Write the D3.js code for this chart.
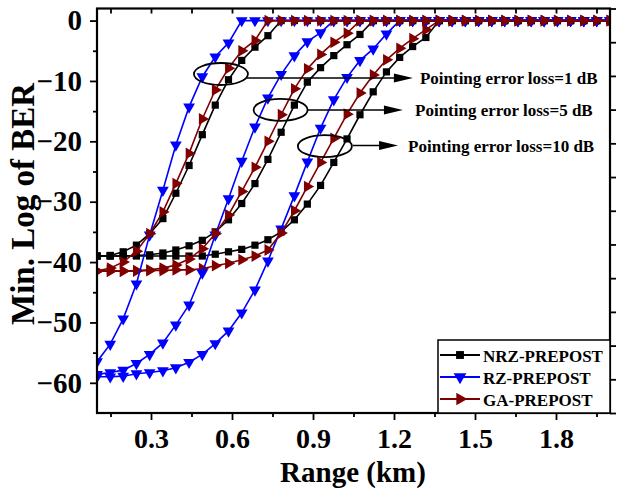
<!DOCTYPE html>
<html>
<head>
<meta charset="utf-8">
<script src="https://cdn.jsdelivr.net/npm/d3@7"></script>
<style>
  body { margin: 0; background: #fff; }
  text { font-family: "Liberation Serif", "Times New Roman", serif; font-weight: bold; fill: #000; }
</style>
</head>
<body>
<svg id="chart" width="617" height="490"></svg>
<script>
// range sweep (km), 40 points
const rangeKm = [0.1, 0.149, 0.197, 0.246, 0.295, 0.344, 0.392, 0.441, 0.49, 0.538,
  0.587, 0.636, 0.685, 0.733, 0.782, 0.831, 0.879, 0.928, 0.977, 1.026,
  1.074, 1.123, 1.172, 1.221, 1.269, 1.318, 1.367, 1.415, 1.464, 1.513,
  1.562, 1.61, 1.659, 1.708, 1.756, 1.805, 1.854, 1.903, 1.951, 2.0];

// min log of BER, pointing error loss = 1 dB
const nrz1 = [-39.0, -38.9, -38.3, -37.2, -35.3, -32.8, -28.6, -24.0, -18.9, -14.0,
  -9.8, -6.6, -4.4, -2.5, 0, 0, 0, 0, 0, 0, 0, 0, 0, 0, 0, 0, 0, 0, 0, 0, 0, 0, 0, 0, 0, 0, 0, 0, 0, 0];
const rz1 = [-56.5, -53.6, -49.4, -43.6, -35.5, -28.1, -20.6, -14.3, -9.3, -6.0,
  -3.7, 0, 0, 0, 0, 0, 0, 0, 0, 0, 0, 0, 0, 0, 0, 0, 0, 0, 0, 0, 0, 0, 0, 0, 0, 0, 0, 0, 0, 0];
const ga1 = [-41.5, -41.0, -40.0, -38.2, -35.3, -31.7, -27.0, -22.0, -16.3, -11.5,
  -7.9, -5.0, -3.3, 0, 0, 0, 0, 0, 0, 0, 0, 0, 0, 0, 0, 0, 0, 0, 0, 0, 0, 0, 0, 0, 0, 0, 0, 0, 0, 0];

// pointing error loss = 5 dB
const nrz5 = [-39.0, -39.0, -39.0, -38.9, -38.8, -38.5, -38.0, -37.3, -36.4, -35.0,
  -33.0, -30.3, -27.0, -23.0, -18.5, -14.0, -10.2, -7.8, -5.8, -4.0,
  -2.3, 0, 0, 0, 0, 0, 0, 0, 0, 0, 0, 0, 0, 0, 0, 0, 0, 0, 0, 0];
const rz5 = [-58.6, -58.3, -57.9, -56.8, -55.3, -53.4, -50.4, -47.1, -41.8, -35.5,
  -29.5, -23.3, -17.6, -12.8, -8.9, -5.8, -3.5, -2.0, 0, 0,
  0, 0, 0, 0, 0, 0, 0, 0, 0, 0, 0, 0, 0, 0, 0, 0, 0, 0, 0, 0];
const ga5 = [-41.5, -41.5, -41.5, -41.4, -41.3, -41.0, -40.5, -39.5, -37.8, -35.3,
  -32.2, -28.3, -24.3, -20.0, -15.6, -11.3, -8.0, -5.6, -3.6, -2.1,
  0, 0, 0, 0, 0, 0, 0, 0, 0, 0, 0, 0, 0, 0, 0, 0, 0, 0, 0, 0];

// pointing error loss = 10 dB
const nrz10 = [-39.0, -39.0, -39.0, -39.0, -39.0, -39.0, -39.0, -39.0, -39.0, -38.7,
  -38.3, -37.9, -37.2, -36.3, -35.0, -33.0, -30.4, -27.3, -23.5, -19.6,
  -15.6, -11.8, -8.5, -6.1, -4.3, -2.8, 0, 0, 0, 0, 0, 0, 0, 0, 0, 0, 0, 0, 0, 0];
const rz10 = [-59.0, -59.0, -58.9, -58.5, -58.3, -58.0, -57.5, -56.6, -55.3, -53.5,
  -51.4, -48.4, -44.6, -39.8, -34.5, -29.0, -23.4, -17.8, -13.1, -9.4,
  -6.6, -4.7, -2.2, 0, 0, 0, 0, 0, 0, 0, 0, 0, 0, 0, 0, 0, 0, 0, 0, 0];
const ga10 = [-41.5, -41.5, -41.5, -41.5, -41.4, -41.4, -41.3, -41.3, -41.1, -40.6,
  -40.2, -39.6, -39.0, -38.0, -35.2, -31.5, -27.5, -23.5, -19.5, -15.5,
  -12.0, -9.0, -6.5, -4.6, -3.0, -1.5, 0, 0, 0, 0, 0, 0, 0, 0, 0, 0, 0, 0, 0, 0];

const legendNames = ['NRZ-PREPOST', 'RZ-PREPOST', 'GA-PREPOST'];
const xMajor = [0.3, 0.6, 0.9, 1.2, 1.5, 1.8];
const xMinor = [0.15, 0.45, 0.75, 1.05, 1.35, 1.65, 1.95];
const yMajor = [0, -10, -20, -30, -40, -50, -60];
const yMinor = [-5, -15, -25, -35, -45, -55];
const noteLabels = ['Pointing error loss=1 dB', 'Pointing error loss=5 dB', 'Pointing error loss=10 dB'];

const svg = d3.select('#chart');
const x = d3.scaleLinear().domain([0.1, 2.0]).range([97, 610]);
const y = d3.scaleLinear().domain([-65, 2]).range([413, 8.5]);

// modulation styles: color + marker
const styles = {
  NRZ: { color: '#000000', sym: d3.symbolSquare, size: 52, rot: 0 },
  RZ: { color: '#0000ff', sym: d3.symbolTriangle, size: 60, rot: 180 },
  GA: { color: '#800000', sym: d3.symbolTriangle, size: 60, rot: 90 }
};

// draw order: black, blue, red for each loss group
const series = [
  { v: nrz10, s: 'NRZ' }, { v: rz10, s: 'RZ' }, { v: ga10, s: 'GA' },
  { v: nrz5, s: 'NRZ' }, { v: rz5, s: 'RZ' }, { v: ga5, s: 'GA' },
  { v: nrz1, s: 'NRZ' }, { v: rz1, s: 'RZ' }, { v: ga1, s: 'GA' }
];

svg.append('clipPath').attr('id', 'plotclip')
  .append('rect').attr('x', 97).attr('y', 0).attr('width', 513).attr('height', 413);

const plot = svg.append('g').attr('clip-path', 'url(#plotclip)');

let lineFn = d3.line()
  .x((d, i) => x(rangeKm[i]))
  .y(d => y(d));

series.forEach(ser => {
  let st = styles[ser.s];
  let g = plot.append('g');
  g.append('path')
    .attr('d', lineFn(ser.v))
    .style('fill', 'none')
    .style('stroke', st.color)
    .style('stroke-width', 1.6);
  g.selectAll('path.mk')
    .data(ser.v)
    .join('path')
    .classed('mk', true)
    .attr('d', d3.symbol(st.sym, st.size))
    .attr('transform', (d, i) => `translate(${x(rangeKm[i])},${y(d)}) rotate(${st.rot})`)
    .style('fill', st.color);
});

// annotations: ellipses + arrows + labels
const notes = [
  { cx: 0.559, cy: -8.85, lx0: 0.655, ly: -9.5, tip: 1.27, tx: 1.296 },
  { cx: 0.78, cy: -14.8, lx0: 0.881, ly: -14.8, tip: 1.233, tx: 1.278 },
  { cx: 0.944, cy: -20.8, lx0: 1.048, ly: -20.7, tip: 1.215, tx: 1.252 }
];
const ann = svg.append('g');
notes.forEach((n, k) => {
  ann.append('ellipse')
    .attr('cx', x(n.cx)).attr('cy', y(n.cy))
    .attr('rx', 27).attr('ry', 11)
    .style('fill', 'none').style('stroke', '#000').style('stroke-width', 1.8);
  let ly = y(n.ly), tip = x(n.tip);
  ann.append('line')
    .attr('x1', x(n.lx0)).attr('x2', tip - 10)
    .attr('y1', ly).attr('y2', ly)
    .style('stroke', '#000').style('stroke-width', 1.6);
  ann.append('path')
    .attr('d', `M${tip},${ly} L${tip - 19},${ly - 4.5} L${tip - 19},${ly + 4.5} Z`)
    .style('fill', '#000');
  ann.append('text')
    .attr('x', x(n.tx)).attr('y', ly + 1)
    .attr('dominant-baseline', 'central')
    .style('font-size', '17px')
    .text(noteLabels[k]);
});

// axes
const axB = svg.append('g').attr('transform', 'translate(0,413)');
axB.call(d3.axisBottom(x).tickValues(xMajor).tickSize(7).tickFormat(d3.format('.1f')));
axB.append('g').call(d3.axisBottom(x).tickValues(xMinor).tickSize(4).tickFormat(''));

const axL = svg.append('g').attr('transform', 'translate(97,0)');
axL.call(d3.axisLeft(y).tickValues(yMajor).tickSize(7).tickPadding(8).tickFormat(d3.format('d')));
axL.append('g').call(d3.axisLeft(y).tickValues(yMinor).tickSize(4).tickFormat(''));

svg.append('g').attr('transform', 'translate(0,8.5)')
  .call(d3.axisTop(x).tickValues(xMajor.concat(xMinor)).tickSize(-5).tickFormat(''));

// right axis: 12 equal divisions, unlabeled
const yR = d3.scaleLinear().domain([0, 12]).range([413, 8.5]);
svg.append('g').attr('transform', 'translate(610,0)')
  .call(d3.axisRight(yR).ticks(12).tickSize(6).tickFormat(''));

svg.selectAll('.domain').remove();
svg.selectAll('.tick line').style('stroke', '#000').style('stroke-width', 1.8);
axB.selectAll('.tick text').style('font-size', '28px').style('font-family', '"Liberation Serif", serif').style('font-weight', 'bold').attr('dy', '0.9em');
axL.selectAll('.tick text').style('font-size', '29px').style('font-family', '"Liberation Serif", serif').style('font-weight', 'bold');

svg.append('rect')
  .attr('x', 97).attr('y', 8.5).attr('width', 513).attr('height', 404.5)
  .style('fill', 'none').style('stroke', '#000').style('stroke-width', 2.2);

// axis titles
svg.append('text')
  .attr('x', 353).attr('y', 482)
  .attr('text-anchor', 'middle')
  .style('font-size', '29px')
  .text('Range (km)');
svg.append('text')
  .attr('transform', 'translate(34,204) rotate(-90)')
  .attr('text-anchor', 'middle')
  .style('font-size', '33px')
  .text('Min. Log of BER');

// legend
const leg = svg.append('g');
leg.append('rect')
  .attr('x', 438).attr('y', 340).attr('width', 172).attr('height', 73)
  .style('fill', '#fff').style('stroke', '#000').style('stroke-width', 1.5);
['NRZ', 'RZ', 'GA'].forEach((key, i) => {
  let st = styles[key];
  let ry = 355 + i * 22;
  leg.append('line')
    .attr('x1', 440).attr('x2', 480).attr('y1', ry).attr('y2', ry)
    .style('stroke', st.color).style('stroke-width', 1.8);
  leg.append('path')
    .attr('d', d3.symbol(st.sym, st.size + 10))
    .attr('transform', `translate(460,${ry}) rotate(${st.rot})`)
    .style('fill', st.color);
  leg.append('text')
    .attr('x', 483).attr('y', ry + 1)
    .attr('dominant-baseline', 'central')
    .style('font-size', '17px')
    .text(legendNames[i]);
});
</script>
</body>
</html>
